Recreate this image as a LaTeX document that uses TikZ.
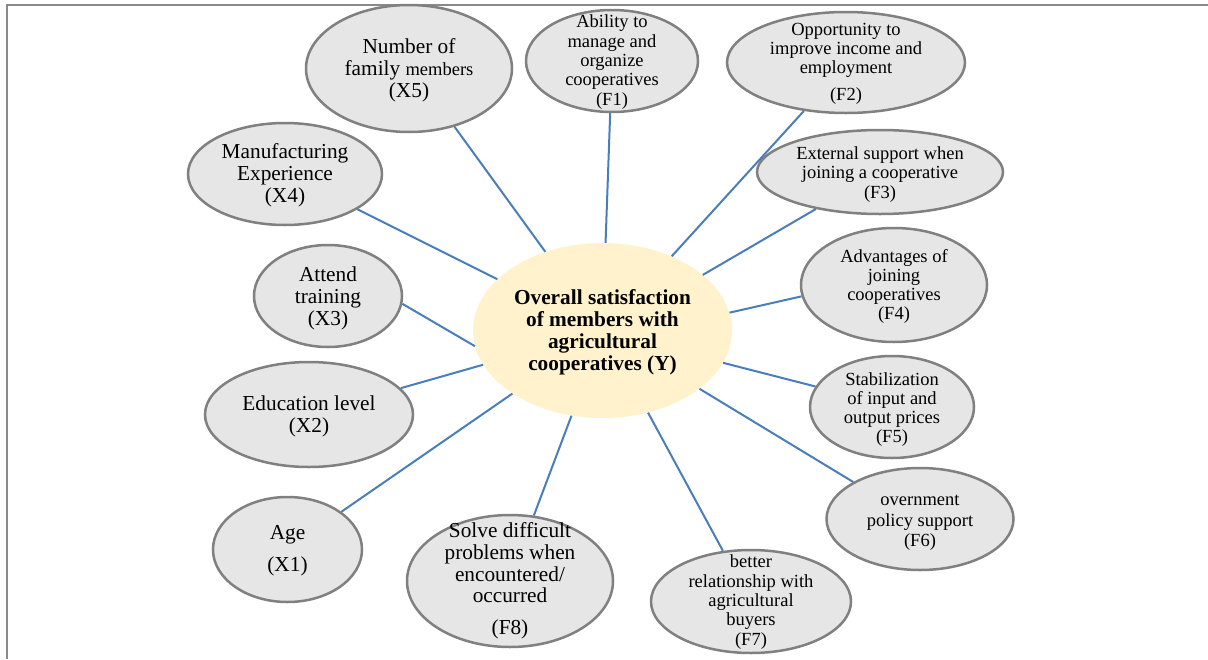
\documentclass[tikz,border=0pt]{standalone}
\usepackage{fontspec}
\setmainfont{Liberation Serif}
\usetikzlibrary{shapes.geometric}
\definecolor{ellfill}{HTML}{E7E6E6}
\definecolor{elldraw}{HTML}{808080}
\definecolor{linkblue}{HTML}{4A7EBB}
\definecolor{corefill}{HTML}{FFF2CC}
\definecolor{framegray}{HTML}{8A8A8A}
\newcommand\fontXX{\fontsize{21.3}{22}\selectfont}
\newcommand\fontFF{\fontsize{18.5}{19.3}\selectfont}
\begin{document}
\begin{tikzpicture}[x=1pt,y=-1pt,
  factor/.style={ellipse, draw=elldraw, fill=ellfill, line width=2.5pt, inner sep=0pt},
  core/.style={ellipse, fill=corefill, inner sep=0pt},
  xtext/.style={align=center, font=\fontXX, inner sep=0pt},
  ftext/.style={align=center, font=\fontFF, inner sep=0pt},
  link/.style={draw=linkblue, line width=2pt},
  frameline/.style={draw=framegray, line width=1.6pt}]
\useasboundingbox (0,0) rectangle (1208,659);
\coordinate (tl) at (7,5);
\coordinate (tr) at (1208,5);
\coordinate (bl) at (7,659);
\draw[frameline] (tr) -- (tl) -- (bl);

% central node
\node[core, minimum width=259pt, minimum height=175pt] (y) at (602.5,330.5) {};
\node[xtext, font=\fontXX\bfseries] (yt) at (602.5,332) {Overall satisfaction\\of members with\\agricultural\\cooperatives (Y)};

% X factors
\node[factor, minimum width=206pt, minimum height=127pt] (x5) at (409,68.5) {};
\node[factor, minimum width=194pt, minimum height=102pt] (x4) at (285,174) {};
\node[factor, minimum width=148pt, minimum height=102pt] (x3) at (328,296) {};
\node[factor, minimum width=208pt, minimum height=105pt] (x2) at (309,414.5) {};
\node[factor, minimum width=149pt, minimum height=105pt] (x1) at (287.5,549.5) {};

% F factors
\node[factor, minimum width=172pt, minimum height=102pt] (f1) at (612,61) {};
\node[factor, minimum width=238pt, minimum height=101pt] (f2) at (846,62.5) {};
\node[factor, minimum width=246pt, minimum height=84pt] (f3) at (880,172) {};
\node[factor, minimum width=186pt, minimum height=114pt] (f4) at (894,285) {};
\node[factor, minimum width=164pt, minimum height=102pt] (f5) at (892,407) {};
\node[factor, minimum width=187pt, minimum height=102pt] (f6) at (920,519) {};
\node[factor, minimum width=200pt, minimum height=103pt] (f7) at (751,601.5) {};
\node[factor, minimum width=206pt, minimum height=132pt] (f8) at (510,581) {};

% texts
\node[xtext] (x5t) at (409,70) {Number of\\family {\fontsize{18.5}{22}\selectfont members}\\(X5)};
\node[xtext] (x4t) at (285,175) {Manufacturing\\Experience\\(X4)};
\node[xtext] (x3t) at (328,298) {Attend\\training\\(X3)};
\node[xtext] (x2t) at (309,416) {Education level\\(X2)};
\node[xtext] (x1t) at (287.5,551) {Age\\[10pt](X1)};
\node[ftext] (f1t) at (612,62) {Ability to\\manage and\\organize\\cooperatives\\(F1)};
\node[ftext] (f2t) at (846,63.5) {Opportunity to\\improve income and\\employment\\[7pt](F2)};
\node[ftext] (f3t) at (880,174.5) {External support when\\joining a cooperative\\(F3)};
\node[ftext] (f4t) at (894,286.5) {Advantages of\\joining\\cooperatives\\(F4)};
\node[ftext] (f5t) at (892,409.5) {Stabilization\\of input and\\output prices\\(F5)};
\node[ftext, font=\fontsize{18.5}{20.5}\selectfont] (f6t) at (920,523) {overnment\\policy support\\(F6)};
\node[ftext] (f7t) at (751,602) {better\\relationship with\\agricultural\\buyers\\(F7)};
\node[xtext, font=\fontsize{21.3}{21.7}\selectfont] (f8t) at (510,581) {Solve difficult\\problems when\\encountered/\\occurred\\[10pt](F8)};

% connectors
\draw[link] (y.126) -- (x5.-52);
\draw[link] (y.88.4) -- (f1.-92);
\draw[link] (y.47.7) -- (f2.-131);
\draw[link] (y.29.5) -- (f3.-150);
\draw[link] (y.8.6) -- (f4.187.4);
\draw[link] (y.-15.2) -- (f5.165.4);
\draw[link] (y.-31.7) -- (f6.151.7);
\draw[link] (y.-61) -- (f7.119);
\draw[link] (y.-110) -- (f8.70.8);
\draw[link] (y.215.7) -- (x1.35.2);
\draw[link] (y.196.3) -- (x2.16.2);
\draw[link] (y.187.3) -- (x3.-6.8);
\draw[link] (y.154.2) -- (x4.-26.6);
\end{tikzpicture}
\end{document}
